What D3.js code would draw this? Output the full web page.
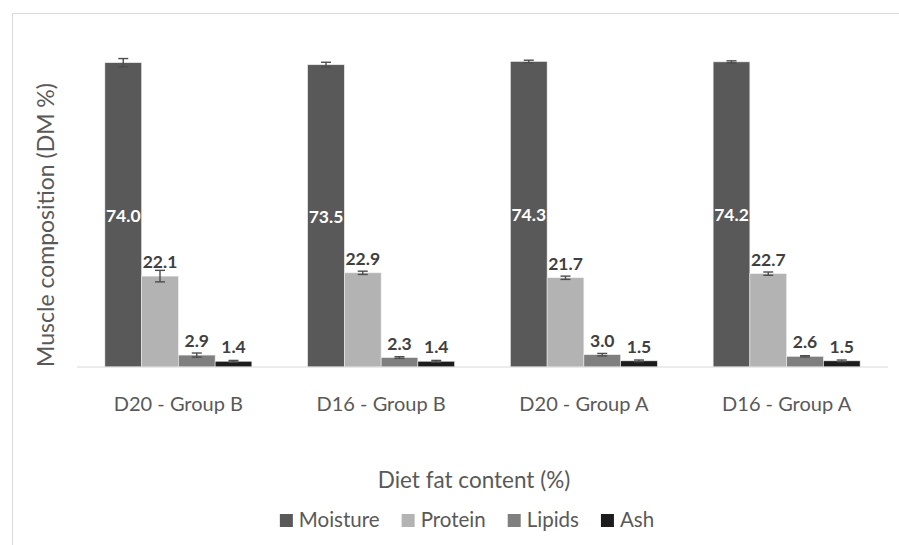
<!DOCTYPE html>
<html>
<head>
<meta charset="utf-8">
<script src="https://cdn.jsdelivr.net/npm/d3@7"></script>
<style>
  html, body { margin: 0; padding: 0; background: #fff; }
  svg { display: block; }
</style>
</head>
<body>
<svg id="chart" width="899" height="545"></svg>
<script>
// ---- data ----
const categories = ["D20 - Group B", "D16 - Group B", "D20 - Group A", "D16 - Group A"];
const seriesNames = ["Moisture", "Protein", "Lipids", "Ash"];
const moisture = [74.0, 73.5, 74.3, 74.2];
const protein  = [22.1, 22.9, 21.7, 22.7];
const lipids   = [2.9, 2.3, 3.0, 2.6];
const ash      = [1.4, 1.4, 1.5, 1.5];
const moistureErr = [1.0, 0.6, 0.3, 0.25];
const proteinErr  = [1.4, 0.4, 0.4, 0.4];
const lipidsErr   = [0.5, 0.2, 0.3, 0.15];
const ashErr      = [0.2, 0.2, 0.2, 0.2];
const xTitle = "Diet fat content (%)";
const yTitle = "Muscle composition (DM %)";

const values = [moisture, protein, lipids, ash];
const errors = [moistureErr, proteinErr, lipidsErr, ashErr];
const colors = ["#595959", "#b3b3b3", "#7f7f7f", "#1c1c1c"];

const svg = d3.select("#chart");
const font = "Lato, 'Open Sans', sans-serif";
const textColor = "#595959";

// frame (partially visible chart border)
svg.append("line").attr("x1", 12.5).attr("x2", 899).attr("y1", 13.5).attr("y2", 13.5)
  .attr("stroke", "#d9d9d9").attr("stroke-width", 1);
svg.append("line").attr("x1", 12.5).attr("x2", 12.5).attr("y1", 13.5).attr("y2", 545)
  .attr("stroke", "#d9d9d9").attr("stroke-width", 1);

const left = 77, right = 888, baseY = 367, topY = 38;

const x0 = d3.scaleBand().domain(categories).range([left, right])
  .paddingInner(0.275).paddingOuter(0.1375);
const x1 = d3.scaleBand().domain(seriesNames).range([0, x0.bandwidth()]);
const y = d3.scaleLinear().domain([0, 80]).range([baseY, topY]);

const data = [];
categories.forEach((c, i) => {
  seriesNames.forEach((s, j) => {
    data.push({ cat: c, series: s, si: j, v: values[j][i], e: errors[j][i] });
  });
});

const g = svg.append("g");

// bars
g.selectAll("rect.bar").data(data).join("rect")
  .attr("class", "bar")
  .attr("x", d => x0(d.cat) + x1(d.series))
  .attr("y", d => y(d.v))
  .attr("width", x1.bandwidth())
  .attr("height", d => y(0) - y(d.v))
  .attr("fill", d => colors[d.si])
  .attr("stroke", "#eeeeee")
  .attr("stroke-width", 0.6);

// axis line
const xAxis = d3.axisBottom(x0).tickSize(0).tickPadding(0).tickFormat("");
const axG = svg.append("g").attr("transform", `translate(0,${baseY})`).call(xAxis);
axG.select(".domain").attr("stroke", "#d9d9d9").attr("stroke-width", 1.2)
  .attr("d", `M${left},0H${right}`);

// error bars
const eb = g.selectAll("g.err").data(data).join("g").attr("class", "err")
  .attr("stroke", "#4d4d4d").attr("stroke-width", 1.4);
const cx = d => x0(d.cat) + x1(d.series) + x1.bandwidth() / 2;
eb.append("line").attr("x1", cx).attr("x2", cx)
  .attr("y1", d => y(d.v + d.e)).attr("y2", d => y(d.v - d.e));
eb.append("line").attr("x1", d => cx(d) - 5).attr("x2", d => cx(d) + 5)
  .attr("y1", d => y(d.v + d.e)).attr("y2", d => y(d.v + d.e));
eb.append("line").attr("x1", d => cx(d) - 5).attr("x2", d => cx(d) + 5)
  .attr("y1", d => y(d.v - d.e)).attr("y2", d => y(d.v - d.e));

// data labels
g.selectAll("text.lbl").data(data).join("text")
  .attr("class", "lbl")
  .attr("x", cx)
  .attr("y", d => d.si === 0 ? (y(d.v) + y(0)) / 2 + 7 : y(d.v) - 8)
  .attr("text-anchor", "middle")
  .attr("font-family", font)
  .attr("font-weight", "bold")
  .attr("font-size", 17.5)
  .attr("fill", d => d.si === 0 ? "#ffffff" : "#404040")
  .text(d => d.v.toFixed(1));

// category labels
svg.selectAll("text.cat").data(categories).join("text")
  .attr("class", "cat")
  .attr("x", d => x0(d) + x0.bandwidth() / 2)
  .attr("y", 411)
  .attr("text-anchor", "middle")
  .attr("font-family", font)
  .attr("font-size", 20)
  .attr("fill", textColor)
  .text(d => d);

// x title
svg.append("text")
  .attr("x", 474).attr("y", 488)
  .attr("text-anchor", "middle")
  .attr("font-family", font).attr("font-size", 22.5)
  .attr("fill", textColor)
  .text(xTitle);

// y title
svg.append("text")
  .attr("transform", "translate(54,225) rotate(-90)")
  .attr("text-anchor", "middle")
  .attr("font-family", font).attr("font-size", 23)
  .attr("fill", textColor)
  .text(yTitle);

// legend
const leg = svg.append("g");
let lx = 0;
seriesNames.forEach((s, i) => {
  const item = leg.append("g").attr("transform", `translate(${lx},0)`);
  item.append("rect").attr("x", 0).attr("y", -13).attr("width", 13).attr("height", 13)
    .attr("fill", colors[i]);
  const t = item.append("text").attr("x", 19).attr("y", 0)
    .attr("font-family", font).attr("font-size", 20.5).attr("fill", textColor).text(s);
  lx += 19 + t.node().getComputedTextLength() + 22;
});
const legW = lx - 22;
leg.attr("transform", `translate(${467 - legW / 2},527)`);
</script>
</body>
</html>
